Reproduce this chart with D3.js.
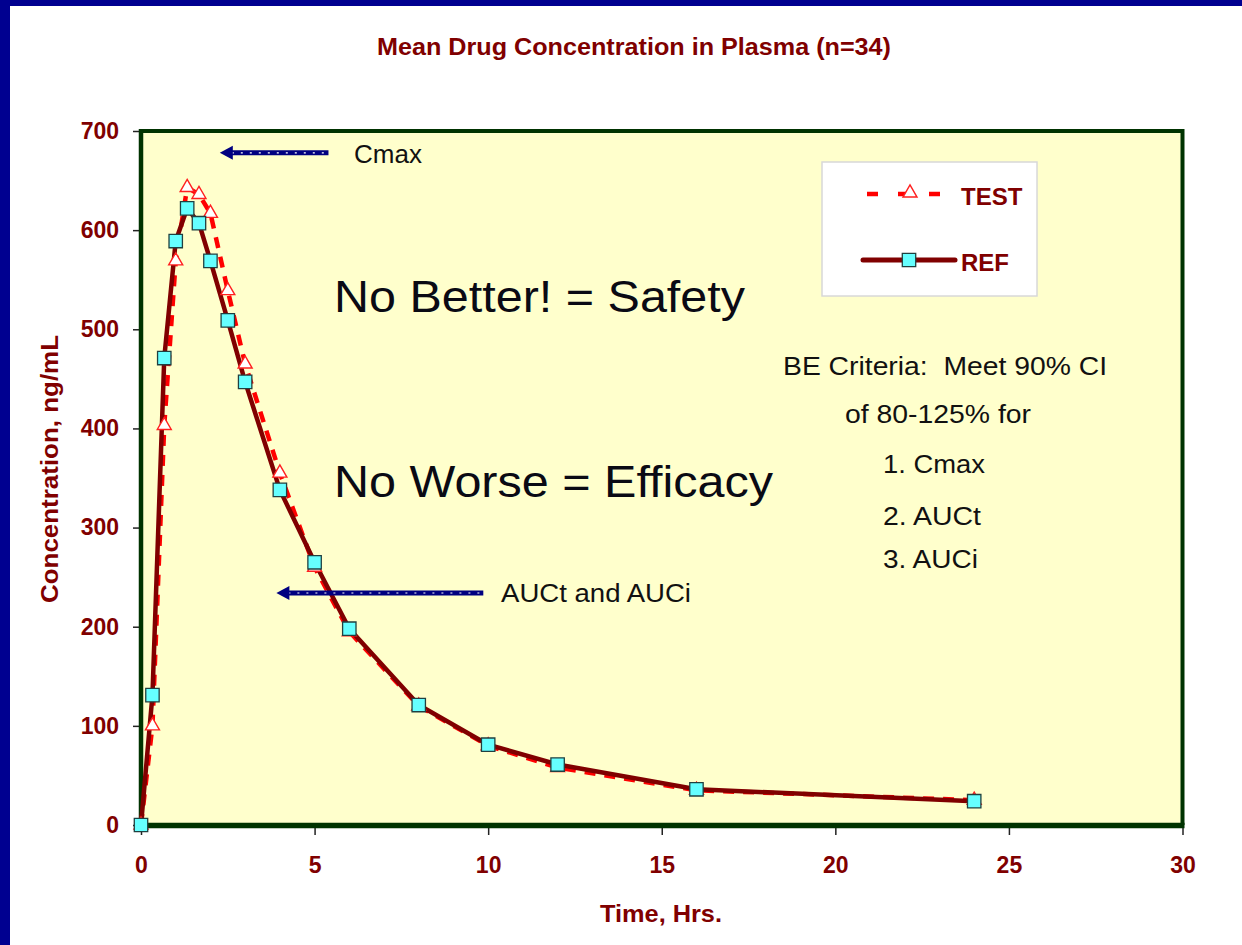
<!DOCTYPE html>
<html>
<head>
<meta charset="utf-8">
<script src="https://cdn.jsdelivr.net/npm/d3@7"></script>
<style>
  html, body { margin: 0; padding: 0; background: #ffffff; }
  svg { display: block; }
  text { font-family: "Liberation Sans", Arial, sans-serif; }
</style>
</head>
<body>
<svg id="chart" width="1242" height="945"></svg>
<script>
// ---- data ----
const timeHrs = [0, 0.33, 0.67, 1, 1.33, 1.67, 2, 2.5, 3, 4, 5, 6, 8, 10, 12, 16, 24];
const testConc = [0, 100, 403, 569, 643, 636, 617, 539, 465, 355, 260, 195, 120, 80, 58, 35, 25];
const refConc  = [0, 131, 471, 589, 622, 607, 569, 509, 447, 338, 265, 198, 121, 81, 61, 36, 24];
const xTicks = [0, 5, 10, 15, 20, 25, 30];
const yTicks = [0, 100, 200, 300, 400, 500, 600, 700];
const seriesNames = ["TEST", "REF"];
const titleText = "Mean Drug Concentration in Plasma (n=34)";
const xTitle = "Time, Hrs.";
const yTitle = "Concentration, ng/mL";
const criteriaLines = ["BE Criteria:  Meet 90% CI", "of 80-125% for", "1. Cmax", "2. AUCt", "3. AUCi"];

const svg = d3.select("#chart");
const W = 1242, H = 945;
const DARK_RED = "#800000";
const FRAME = "#003300";

// slide frame
svg.append("rect").attr("x", 0).attr("y", 0).attr("width", W).attr("height", H).attr("fill", "#000090");
svg.append("rect").attr("x", 10).attr("y", 6).attr("width", W - 10).attr("height", H - 6).attr("fill", "#ffffff");

const x = d3.scaleLinear().domain([0, 30]).range([141, 1182.5]);
const y = d3.scaleLinear().domain([0, 700]).range([825, 131]);

// plot background
svg.append("rect")
  .attr("x", x(0)).attr("y", y(700))
  .attr("width", x(30) - x(0)).attr("height", y(0) - y(700))
  .attr("fill", "#FFFFCC");

// frame: top & right
svg.append("path")
  .attr("d", `M${x(0)},${y(700)}H${x(30)}V${y(0)}`)
  .attr("fill", "none").attr("stroke", FRAME).attr("stroke-width", 4);

// y axis
const yAxis = d3.axisLeft(y).tickValues(yTicks).tickSize(8).tickPadding(14).tickFormat(d3.format("d"));
const gy = svg.append("g").attr("transform", `translate(${x(0)},0)`).call(yAxis);
gy.select(".domain").remove();
gy.selectAll(".tick line").attr("stroke", "#222").attr("stroke-width", 1.5);
gy.selectAll(".tick text").attr("fill", DARK_RED).attr("font-size", 23).attr("font-weight", "bold")
  .attr("font-family", "Liberation Sans, Arial, sans-serif");

// x axis
const xAxis = d3.axisBottom(x).tickValues(xTicks).tickSize(10).tickPadding(22).tickFormat(d3.format("d"));
const gx = svg.append("g").attr("transform", `translate(0,${y(0)})`).call(xAxis);
gx.select(".domain").remove();
gx.selectAll(".tick line").attr("stroke", "#222").attr("stroke-width", 1.5);
gx.selectAll(".tick text").attr("fill", DARK_RED).attr("font-size", 23).attr("font-weight", "bold")
  .attr("font-family", "Liberation Sans, Arial, sans-serif");

// axis lines (thick)
svg.append("line").attr("x1", x(0)).attr("x2", x(0)).attr("y1", y(700) - 2).attr("y2", y(0))
  .attr("stroke", FRAME).attr("stroke-width", 4.5);
svg.append("line").attr("x1", x(0) - 2).attr("x2", x(30) + 2).attr("y1", y(0) + 0.5).attr("y2", y(0) + 0.5)
  .attr("stroke", FRAME).attr("stroke-width", 5.5);

// title & axis titles
svg.append("text").attr("x", 634).attr("y", 55).attr("text-anchor", "middle")
  .attr("font-size", 23).attr("font-weight", "bold").attr("fill", DARK_RED)
  .attr("textLength", 514).attr("lengthAdjust", "spacingAndGlyphs").text(titleText);
svg.append("text").attr("x", 661).attr("y", 922).attr("text-anchor", "middle")
  .attr("font-size", 24).attr("font-weight", "bold").attr("fill", DARK_RED)
  .attr("textLength", 122).attr("lengthAdjust", "spacingAndGlyphs").text(xTitle);
svg.append("text").attr("transform", "translate(58,469) rotate(-90)").attr("text-anchor", "middle")
  .attr("font-size", 24).attr("font-weight", "bold").attr("fill", DARK_RED)
  .attr("textLength", 268).attr("lengthAdjust", "spacingAndGlyphs").text(yTitle);

// data
const testData = timeHrs.map((t, i) => ({t, c: testConc[i]}));
const refData = timeHrs.map((t, i) => ({t, c: refConc[i]}));
const line = d3.line().x(d => x(d.t)).y(d => y(d.c));

svg.append("path").datum(testData).attr("d", line)
  .attr("fill", "none").attr("stroke", "#FF0000").attr("stroke-width", 4.5)
  .attr("stroke-dasharray", "11,9");
svg.append("path").datum(refData).attr("d", line)
  .attr("fill", "none").attr("stroke", DARK_RED).attr("stroke-width", 4.5)
  .attr("stroke-linejoin", "round");

const tri = d3.symbol().type(d3.symbolTriangle).size(85);
const sq = d3.symbol().type(d3.symbolSquare).size(180);

svg.append("g").selectAll("path").data(testData).join("path")
  .attr("transform", d => `translate(${x(d.t)},${y(d.c)})`)
  .attr("d", tri).attr("fill", "#ffffff").attr("stroke", "#FF2020").attr("stroke-width", 1.4);
svg.append("g").selectAll("path").data(refData).join("path")
  .attr("transform", d => `translate(${x(d.t)},${y(d.c)})`)
  .attr("d", sq).attr("fill", "#66FFFF").attr("stroke", "#204040").attr("stroke-width", 1.3);

// annotation arrows
function arrow(x1, x2, yy) {
  const g = svg.append("g");
  g.append("line").attr("x1", x1 + 8).attr("x2", x2).attr("y1", yy).attr("y2", yy)
    .attr("stroke", "#000080").attr("stroke-width", 5);
  g.append("line").attr("x1", x1 + 12).attr("x2", x2 - 2).attr("y1", yy).attr("y2", yy)
    .attr("stroke", "#ffffff").attr("stroke-width", 1.2).attr("stroke-dasharray", "2,7");
  g.append("path").attr("d", `M${x1},${yy}L${x1 + 13},${yy - 7}L${x1 + 13},${yy + 7}Z`).attr("fill", "#000080");
}
arrow(x(2.27), x(5.4), y(678));
svg.append("text").attr("x", 354).attr("y", 163).attr("font-size", 26).attr("fill", "#111").text("Cmax");
arrow(x(3.9), x(9.86), y(234));
svg.append("text").attr("x", 501).attr("y", 602).attr("font-size", 26).attr("fill", "#111")
  .attr("textLength", 190).attr("lengthAdjust", "spacingAndGlyphs").text("AUCt and AUCi");

// big statements
svg.append("text").attr("x", 334).attr("y", 312).attr("font-size", 45).attr("fill", "#0a0a14")
  .attr("textLength", 411).attr("lengthAdjust", "spacingAndGlyphs").text("No Better! = Safety");
svg.append("text").attr("x", 334).attr("y", 497).attr("font-size", 45).attr("fill", "#0a0a14")
  .attr("textLength", 439).attr("lengthAdjust", "spacingAndGlyphs").text("No Worse = Efficacy");

// criteria text
const crit = svg.append("g").attr("font-size", 26).attr("fill", "#111");
crit.append("text").attr("x", 783).attr("y", 375).attr("xml:space", "preserve")
  .attr("textLength", 324).attr("lengthAdjust", "spacingAndGlyphs").text(criteriaLines[0]);
crit.append("text").attr("x", 845).attr("y", 423)
  .attr("textLength", 186).attr("lengthAdjust", "spacingAndGlyphs").text(criteriaLines[1]);
crit.append("text").attr("x", 883).attr("y", 473)
  .attr("textLength", 102).attr("lengthAdjust", "spacingAndGlyphs").text(criteriaLines[2]);
crit.append("text").attr("x", 883).attr("y", 525)
  .attr("textLength", 98).attr("lengthAdjust", "spacingAndGlyphs").text(criteriaLines[3]);
crit.append("text").attr("x", 883).attr("y", 568)
  .attr("textLength", 95).attr("lengthAdjust", "spacingAndGlyphs").text(criteriaLines[4]);

// legend
const lg = svg.append("g");
lg.append("rect").attr("x", 822).attr("y", 162).attr("width", 215).attr("height", 134)
  .attr("fill", "#ffffff").attr("stroke", "#d8d8d8").attr("stroke-width", 1.5);
lg.append("line").attr("x1", 867).attr("x2", 940).attr("y1", 194).attr("y2", 194)
  .attr("stroke", "#FF0000").attr("stroke-width", 4.5).attr("stroke-dasharray", "11,20");
lg.append("path").attr("transform", "translate(910,193)").attr("d", tri)
  .attr("fill", "#ffffff").attr("stroke", "#FF2020").attr("stroke-width", 1.4);
lg.append("line").attr("x1", 863).attr("x2", 955).attr("y1", 260).attr("y2", 260)
  .attr("stroke", DARK_RED).attr("stroke-width", 5).attr("stroke-linecap", "round");
lg.append("path").attr("transform", "translate(909,260)").attr("d", sq)
  .attr("fill", "#66FFFF").attr("stroke", "#204040").attr("stroke-width", 1.3);
lg.append("text").attr("x", 961).attr("y", 205).attr("font-size", 24).attr("font-weight", "bold")
  .attr("fill", DARK_RED).text(seriesNames[0]);
lg.append("text").attr("x", 961).attr("y", 271).attr("font-size", 24).attr("font-weight", "bold")
  .attr("fill", DARK_RED).text(seriesNames[1]);
</script>
</body>
</html>
